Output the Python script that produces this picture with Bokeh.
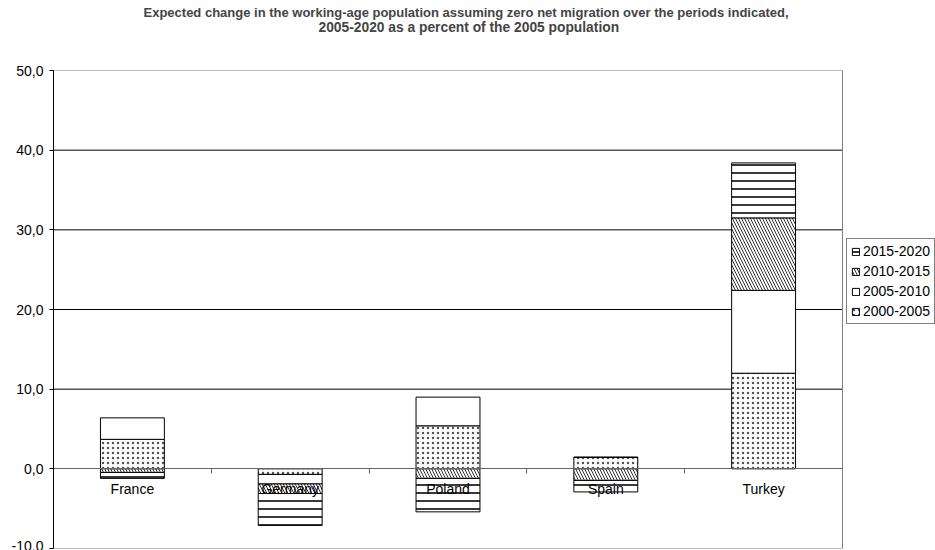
from bokeh.plotting import figure
from bokeh.models import (Range1d, FixedTicker, LinearAxis, Legend, LegendItem,
                          Title, ColumnDataSource, Span)
from bokeh.embed import file_html
from bokeh.resources import INLINE

# Countries and projection periods
categories = ["France", "Germany", "Poland", "Spain", "Turkey"]
periods = ["2000-2005", "2005-2010", "2010-2015", "2015-2020"]

# Expected change (% of 2005 working-age population) per period
chg_2000_2005 = [3.7, -0.7, 5.4, 1.45, 12.0]
chg_2005_2010 = [2.7, -1.2, 3.6, 0.0, 10.4]
chg_2010_2015 = [-0.45, -1.2, -1.2, -1.45, 9.1]
chg_2015_2020 = [-0.75, -4.0, -4.2, -1.45, 6.9]
series = [chg_2000_2005, chg_2005_2010, chg_2010_2015, chg_2015_2020]

# Y axis ticks and their labels (decimal comma)
y_ticks = [-10, 0, 10, 20, 30, 40, 50]
y_tick_labels = ["-10,0", "0,0", "10,0", "20,0", "30,0", "40,0", "50,0"]

TITLE_1 = ("Expected change in the working-age population assuming zero net "
           "migration over the periods indicated,")
TITLE_2 = "2005-2020 as a percent of the 2005 population"

FONT = "Liberation Sans"
BORDER = "#808080"

# fill pattern for each period
styles = [
    dict(hatch_pattern="dot", hatch_scale=5, hatch_weight=1, hatch_color="#555555"),
    dict(hatch_pattern=" "),
    dict(hatch_pattern="left_diagonal_line", hatch_scale=6, hatch_weight=1, hatch_color="#333333"),
    dict(hatch_pattern="horizontal_line", hatch_scale=8, hatch_weight=1.8, hatch_color="#222222"),
]

n = len(categories)
# the bordered chart area is 789 px wide; the frame runs on to the right
# edge of the canvas so the legend can sit beside the chart area
PLOT_W, FRAME_W = 789, 882
p = figure(width=935, height=550, x_range=Range1d(0, n * FRAME_W / PLOT_W),
           y_range=Range1d(y_ticks[0], y_ticks[-1]), output_backend="svg",
           toolbar_location=None, x_axis_type=None, min_border_left=53,
           min_border_right=0, min_border_bottom=2, min_border_top=70,
           background_fill_color="white", border_fill_color="white")
p.outline_line_color = None
p.xgrid.visible = False
p.ygrid.visible = False

# blank spacer next to the plot, then the two title lines above it
spacer = Title(text=" ", text_font_size="1px", standoff=34)
p.add_layout(spacer, "above")
t2 = Title(text=TITLE_2, align="left", offset=265, text_font=FONT,
           text_font_size="13.8px", text_font_style="bold", standoff=-2)
p.add_layout(t2, "above")
p.title.text = TITLE_1
p.title.align = "left"
p.title.offset = 90
p.title.text_font = FONT
p.title.text_font_size = "13px"
p.title.text_font_style = "bold"
p.title.standoff = -2

# y axis
ya = p.yaxis[0]
ya.ticker = FixedTicker(ticks=y_ticks)
ya.major_label_overrides = dict(zip(y_ticks, y_tick_labels))
ya.major_tick_out = 4
ya.major_tick_in = 0
ya.minor_tick_line_color = None
ya.axis_line_color = "black"
ya.major_tick_line_color = "black"
ya.major_label_text_font = FONT
ya.major_label_text_font_size = "14px"
ya.major_label_text_color = "black"
ya.major_label_standoff = 6

# gridlines and the grey border of the chart area
grid_vals = y_ticks[2:-1]
p.segment(x0=[0] * len(grid_vals), x1=[n] * len(grid_vals), y0=grid_vals, y1=grid_vals,
          line_color="black", line_width=1)
edge_vals = [y_ticks[0], y_ticks[-1]]
p.segment(x0=[0, 0], x1=[n, n], y0=edge_vals, y1=edge_vals, line_color=BORDER, line_width=1)
p.add_layout(Span(location=n, dimension="height", line_color=BORDER, line_width=1))

# stacked bars: positives build upward, negatives downward
centers = [i + 0.5 for i in range(n)]
pos_acc = [0.0] * n
neg_acc = [0.0] * n
renderers = []
for vals, st in zip(series, styles):
    bottoms, tops = [], []
    for j, v in enumerate(vals):
        if v >= 0:
            bottoms.append(pos_acc[j]); tops.append(pos_acc[j] + v); pos_acc[j] += v
        else:
            bottoms.append(neg_acc[j] + v); tops.append(neg_acc[j]); neg_acc[j] += v
    src = ColumnDataSource(dict(x=centers, bottom=bottoms, top=tops))
    r = p.vbar(x="x", bottom="bottom", top="top", width=0.405, source=src,
               fill_color="white", line_color="black", line_width=1, **st)
    renderers.append(r)

# category axis along zero, with separator ticks between countries
cat_axis = LinearAxis(ticker=FixedTicker(ticks=centers),
                      major_label_overrides=dict(zip(centers, categories)),
                      fixed_location=0, bounds=(0, n), major_tick_out=0, major_tick_in=0,
                      minor_tick_line_color=None, axis_line_color=None,
                      major_label_text_font=FONT, major_label_text_font_size="14px",
                      major_label_text_color="black", major_label_standoff=12)
p.add_layout(cat_axis, "below")
sep_axis = LinearAxis(ticker=FixedTicker(ticks=list(range(n + 1))),
                      fixed_location=0, bounds=(0, n), major_tick_out=5, major_tick_in=0,
                      major_tick_line_color="#666666", axis_line_color="#666666",
                      minor_tick_line_color=None, major_label_text_alpha=0)
p.add_layout(sep_axis, "below")

legend = Legend(
    items=[LegendItem(label=periods[i], renderers=[renderers[i]]) for i in reversed(range(len(periods)))],
    location=(793, 224), orientation="vertical",
    border_line_color="black", border_line_width=1, background_fill_color="white",
    background_fill_alpha=1, padding=4, margin=0, spacing=4,
    glyph_width=9, glyph_height=9, label_standoff=3, label_height=14,
    label_text_font=FONT, label_text_font_size="14px", label_text_color="black")
p.add_layout(legend, "center")

open("out.html", "w").write(file_html(p, INLINE))
